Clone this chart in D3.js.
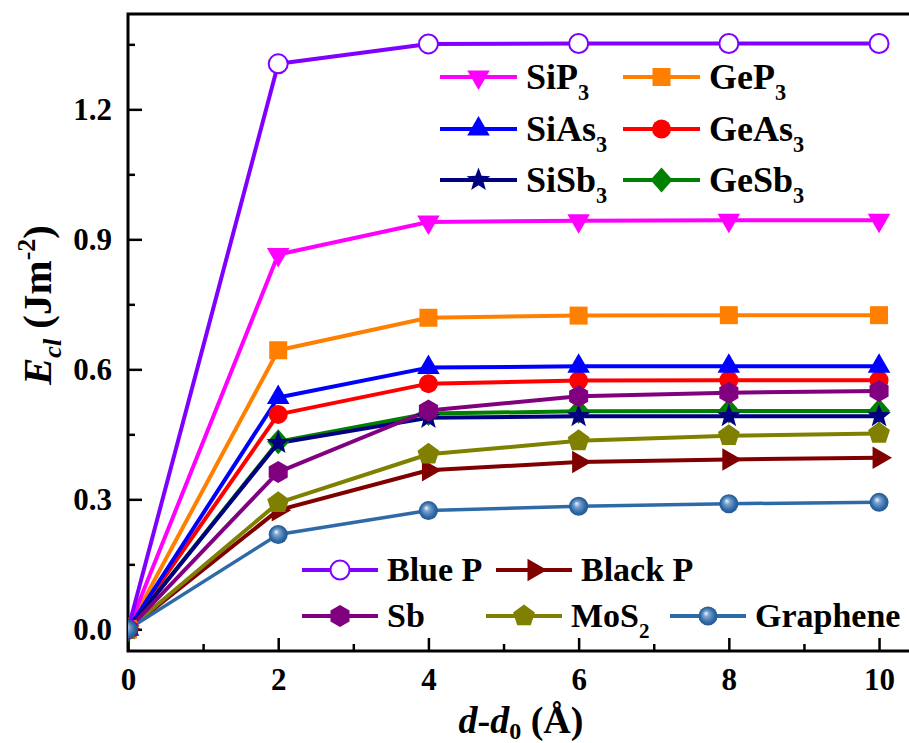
<!DOCTYPE html>
<html>
<head>
<meta charset="utf-8">
<script src="https://cdn.jsdelivr.net/npm/d3@7"></script>
<style>
  html, body { margin: 0; padding: 0; background: #fff; }
  svg text { font-family: "Liberation Serif", Tinos, "Times New Roman", serif; font-weight: bold; }
</style>
</head>
<body>
<svg id="chart" width="909" height="743"></svg>
<script>
// расстояние d-d0 (Å)
const distances = [0, 2, 4, 6, 8, 10];

// энергия расщепления E_cl (J/m^2) для каждого материала
const bluePValues   = [0, 1.305, 1.351, 1.352, 1.352, 1.352];
const siP3Values    = [0, 0.865, 0.940, 0.943, 0.944, 0.944];
const geP3Values    = [0, 0.644, 0.719, 0.724, 0.725, 0.725];
const siAs3Values   = [0, 0.535, 0.604, 0.607, 0.607, 0.607];
const geAs3Values   = [0, 0.496, 0.567, 0.574, 0.575, 0.575];
const siSb3Values   = [0, 0.430, 0.488, 0.492, 0.492, 0.492];
const geSb3Values   = [0, 0.433, 0.498, 0.503, 0.504, 0.504];
const sbValues      = [0, 0.363, 0.505, 0.538, 0.546, 0.550];
const mos2Values    = [0, 0.292, 0.404, 0.435, 0.447, 0.452];
const blackPValues  = [0, 0.275, 0.367, 0.386, 0.392, 0.396];
const grapheneValues = [0, 0.219, 0.274, 0.284, 0.290, 0.293];

const xMajorTicks = [0, 2, 4, 6, 8, 10];
const xMinorTicks = [1, 3, 5, 7, 9];
const yMajorTicks = [0.0, 0.3, 0.6, 0.9, 1.2];
const yMinorTicks = [0.15, 0.45, 0.75, 1.05, 1.35];

// label: [основа, индекс]
const series = [
  { key: 'GeP3',     label: ['GeP', '3'],   values: geP3Values,     color: '#ff8000', marker: 'square' },
  { key: 'SiP3',     label: ['SiP', '3'],   values: siP3Values,     color: '#ff00ff', marker: 'triDown' },
  { key: 'BlueP',    label: ['Blue P', ''], values: bluePValues,    color: '#8000ff', marker: 'open' },
  { key: 'GeAs3',    label: ['GeAs', '3'],  values: geAs3Values,    color: '#ff0000', marker: 'circle' },
  { key: 'SiAs3',    label: ['SiAs', '3'],  values: siAs3Values,    color: '#0000ff', marker: 'triUp' },
  { key: 'GeSb3',    label: ['GeSb', '3'],  values: geSb3Values,    color: '#008000', marker: 'diamond' },
  { key: 'SiSb3',    label: ['SiSb', '3'],  values: siSb3Values,    color: '#000080', marker: 'star' },
  { key: 'BlackP',   label: ['Black P', ''], values: blackPValues,  color: '#800000', marker: 'triRight' },
  { key: 'MoS2',     label: ['MoS', '2'],   values: mos2Values,     color: '#808000', marker: 'pentagon' },
  { key: 'Sb',       label: ['Sb', ''],     values: sbValues,       color: '#800080', marker: 'hexagon' },
  { key: 'Graphene', label: ['Graphene', ''], values: grapheneValues, color: '#2f6aa8', marker: 'sphere' }
];

const svg = d3.select('#chart');

const x = d3.scaleLinear().domain([0, 10.5]).range([128, 916.6]);
const y = d3.scaleLinear().domain([-0.05, 1.42]).range([651, 14]);

// градиент для шариков графена
const defs = svg.append('defs');
const grad = defs.append('radialGradient')
  .attr('id', 'sphere').attr('cx', '50%').attr('cy', '50%').attr('r', '50%')
  .attr('fx', '38%').attr('fy', '35%');
grad.append('stop').attr('offset', '0%').attr('stop-color', '#f4f8fc');
grad.append('stop').attr('offset', '30%').attr('stop-color', '#7ba3cf');
grad.append('stop').attr('offset', '75%').attr('stop-color', '#2f6aa8');
grad.append('stop').attr('offset', '100%').attr('stop-color', '#24578c');

// маркеры в x=0 обрезаются осью
defs.append('clipPath').attr('id', 'plotClip')
  .append('rect').attr('x', 128).attr('y', 0).attr('width', 800).attr('height', 651);

function polygon(n, r, rot) {
  const pts = d3.range(n).map(i => {
    const a = rot + i * 2 * Math.PI / n;
    return [r * Math.cos(a), r * Math.sin(a)];
  });
  return 'M' + pts.map(p => p.join(',')).join('L') + 'Z';
}

function starPath(ro, ri) {
  const pts = d3.range(10).map(i => {
    const r = i % 2 === 0 ? ro : ri;
    const a = -Math.PI / 2 + i * Math.PI / 5;
    return [r * Math.cos(a), r * Math.sin(a)];
  });
  return 'M' + pts.map(p => p.join(',')).join('L') + 'Z';
}

function drawMarker(g, type, color) {
  switch (type) {
    case 'square':
      g.append('rect').attr('x', -9).attr('y', -9).attr('width', 18).attr('height', 18).attr('fill', color);
      break;
    case 'circle':
      g.append('circle').attr('r', 9.5).attr('fill', color);
      break;
    case 'open':
      g.append('circle').attr('r', 9.5).attr('fill', '#fff').attr('stroke', color).attr('stroke-width', 2);
      break;
    case 'sphere':
      g.append('circle').attr('r', 9.5).attr('fill', 'url(#sphere)');
      break;
    case 'triUp':
      g.append('path').attr('d', polygon(3, 13, -Math.PI / 2)).attr('fill', color);
      break;
    case 'triDown':
      g.append('path').attr('d', polygon(3, 13, Math.PI / 2)).attr('fill', color);
      break;
    case 'triRight':
      g.append('path').attr('d', polygon(3, 13, 0)).attr('fill', color);
      break;
    case 'diamond':
      g.append('path').attr('d', 'M0,-12.5L11,0L0,12.5L-11,0Z').attr('fill', color);
      break;
    case 'star':
      g.append('path').attr('d', starPath(12.5, 5.2)).attr('fill', color);
      break;
    case 'pentagon':
      g.append('path').attr('d', polygon(5, 11.5, -Math.PI / 2)).attr('fill', color);
      break;
    case 'hexagon':
      g.append('path').attr('d', polygon(6, 11, -Math.PI / 2)).attr('fill', color);
      break;
  }
}

// оси: внутренние засечки
const gx = svg.append('g').attr('transform', `translate(0,${651})`);
gx.call(d3.axisBottom(x).tickValues(xMajorTicks).tickSizeInner(-13).tickSizeOuter(0).tickPadding(17).tickFormat(d3.format('d')));
gx.append('g').call(d3.axisBottom(x).tickValues(xMinorTicks).tickSizeInner(-7).tickSizeOuter(0).tickFormat(''));

const gy = svg.append('g').attr('transform', `translate(${128},0)`);
gy.call(d3.axisLeft(y).tickValues(yMajorTicks).tickSizeInner(-14).tickSizeOuter(0).tickPadding(16).tickFormat(d3.format('.1f')));
gy.append('g').call(d3.axisLeft(y).tickValues(yMinorTicks).tickSizeInner(-7).tickSizeOuter(0).tickFormat(''));

svg.selectAll('.domain').remove();
svg.selectAll('.tick line').attr('stroke', '#000').attr('stroke-width', 2.5);
gx.attr('font-family', null);
gy.attr('font-family', null);
svg.selectAll('.tick text').attr('fill', '#000').style('font-size', '31px');

// рамка
svg.append('rect')
  .attr('x', 128).attr('y', 14)
  .attr('width', 916.6 - 128).attr('height', 651 - 14)
  .attr('fill', 'none').attr('stroke', '#000').attr('stroke-width', 3);

// линии и маркеры
const line = d3.line().x((d, i) => x(distances[i])).y(d => y(d));
const plot = svg.append('g').attr('clip-path', 'url(#plotClip)');

series.forEach(s => {
  plot.append('path')
    .datum(s.values)
    .attr('d', line)
    .attr('fill', 'none')
    .attr('stroke', s.color)
    .attr('stroke-width', s.key === 'Graphene' ? 3.5 : 4)
    .attr('stroke-linejoin', 'round');
});

series.forEach(s => {
  s.values.forEach((v, i) => {
    const g = plot.append('g').attr('transform', `translate(${x(distances[i])},${y(v)})`);
    drawMarker(g, s.marker, s.color);
  });
});

// легенды
const byKey = {};
series.forEach(s => { byKey[s.key] = s; });

const topLegend = [
  { key: 'SiP3', lx: 440, ly: 77 }, { key: 'GeP3', lx: 623, ly: 77 },
  { key: 'SiAs3', lx: 440, ly: 129 }, { key: 'GeAs3', lx: 623, ly: 129 },
  { key: 'SiSb3', lx: 440, ly: 180 }, { key: 'GeSb3', lx: 623, ly: 180 }
];
const bottomLegend = [
  { key: 'BlueP', lx: 302, ly: 570 }, { key: 'BlackP', lx: 496, ly: 570 },
  { key: 'Sb', lx: 302, ly: 616 }, { key: 'MoS2', lx: 486, ly: 616 }, { key: 'Graphene', lx: 670, ly: 616 }
];

function addLegend(items, fontSize, lineLen) {
  const lg = svg.append('g').attr('class', 'legend');
  items.forEach(item => {
    const s = byKey[item.key];
    lg.append('line')
      .attr('x1', item.lx).attr('x2', item.lx + lineLen)
      .attr('y1', item.ly).attr('y2', item.ly)
      .attr('stroke', s.color).attr('stroke-width', 4);
    const m = lg.append('g').attr('transform', `translate(${item.lx + lineLen / 2},${item.ly})`);
    drawMarker(m, s.marker, s.color);
    const t = lg.append('text')
      .attr('x', item.lx + lineLen + 9)
      .attr('y', item.ly + fontSize * 0.33)
      .style('font-size', fontSize + 'px');
    t.append('tspan').text(s.label[0]);
    if (s.label[1]) {
      t.append('tspan').attr('dy', fontSize * 0.32).style('font-size', (fontSize * 0.62) + 'px').text(s.label[1]);
    }
  });
}

addLegend(topLegend, 36, 77);
addLegend(bottomLegend, 34, 76);

// подписи осей
const xl = svg.append('text')
  .attr('x', 521).attr('y', 733)
  .attr('text-anchor', 'middle')
  .style('font-size', '38px');
xl.append('tspan').style('font-style', 'italic').text('d');
xl.append('tspan').text('-');
xl.append('tspan').style('font-style', 'italic').text('d');
xl.append('tspan').attr('dy', 6).style('font-size', '24px').text('0');
xl.append('tspan').attr('dy', -6).text(' (Å)');

const yl = svg.append('text')
  .attr('transform', 'translate(51,305) rotate(-90)')
  .attr('text-anchor', 'middle')
  .style('font-size', '41px');
yl.append('tspan').style('font-style', 'italic').text('E');
yl.append('tspan').attr('dy', 10).style('font-style', 'italic').style('font-size', '26px').text('cl');
yl.append('tspan').attr('dy', -10).text(' (Jm');
yl.append('tspan').attr('dy', -16).style('font-size', '26px').text('-2');
yl.append('tspan').attr('dy', 16).text(')');
</script>
</body>
</html>
